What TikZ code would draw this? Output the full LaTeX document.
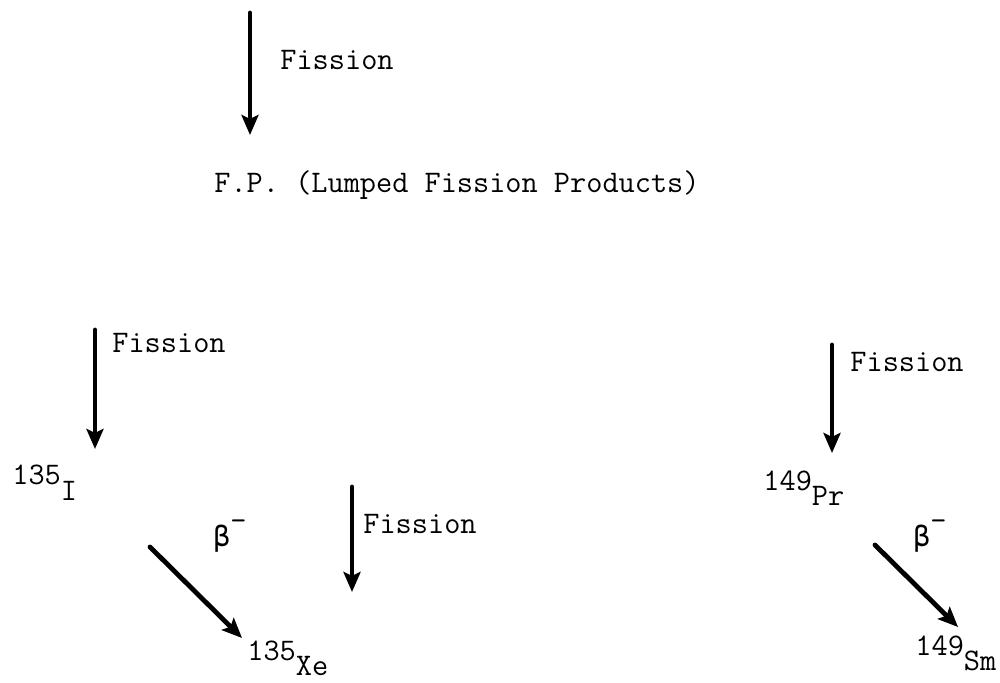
\documentclass[tikz,border=0pt]{standalone}
\usepackage{fontspec}
\newfontfamily\greekmono{DejaVu Sans Mono}
\usetikzlibrary{arrows.meta,positioning}
\tikzset{
  typed/.style={
    inner sep=0pt,
    anchor=base west,
    font=\fontsize{15.7}{18}\selectfont\ttfamily
  },
  decay/.style={
    -{Stealth[length=10pt,width=8.5pt,inset=2pt]},
    line width=2.4pt,
    line cap=round,
    black
  }
}
\newcommand{\nuclide}[2]{#1\raisebox{-0.5em}{#2}}
\newcommand{\betaminus}{{\greekmono\fontsize{14}{16}\selectfont β}\raisebox{0.5em}{-}}

\begin{document}
\begin{tikzpicture}[x=0.5pt,y=-0.5pt]
\useasboundingbox (0,0) rectangle (1000,683);
% top: fission to lumped products
\coordinate (srcA) at (250,13);
\coordinate (tipA) at (250,135);
\node[typed] (fisA) at (280,70) {Fission};
\node[typed] (fp) at (214,193) {F.P. (Lumped Fission Products)};
\draw[decay] (srcA) -- (tipA);
% iodine-xenon chain
\coordinate (srcB) at (95,330);
\coordinate (tipB) at (95,449);
\node[typed] (fisB) at (112,353) {Fission};
\node[typed] (i135) at (12,485) {\nuclide{135}{I}};
\draw[decay] (srcB) -- (tipB);
\coordinate (betaB) at (150,547);
\coordinate (xeTip) at (242,638);
\node[typed] (betB) at (213,546) {\betaminus};
\draw[decay] (betaB) -- (xeTip);
\coordinate (srcC) at (352,487);
\coordinate (tipC) at (352,592);
\node[typed] (fisC) at (363,533) {Fission};
\draw[decay] (srcC) -- (tipC);
\node[typed] (xe135) at (247,660) {\nuclide{135}{Xe}};
% promethium-samarium chain
\coordinate (srcD) at (832,345);
\coordinate (tipD) at (832,453);
\node[typed] (fisD) at (850,372) {Fission};
\node[typed] (pr149) at (763,490) {\nuclide{149}{Pr}};
\draw[decay] (srcD) -- (tipD);
\coordinate (betaD) at (875,545);
\coordinate (smTip) at (958,627);
\node[typed] (betD) at (913,546) {\betaminus};
\draw[decay] (betaD) -- (smTip);
\node[typed] (sm149) at (915,655) {\nuclide{149}{Sm}};
\end{tikzpicture}
\end{document}
